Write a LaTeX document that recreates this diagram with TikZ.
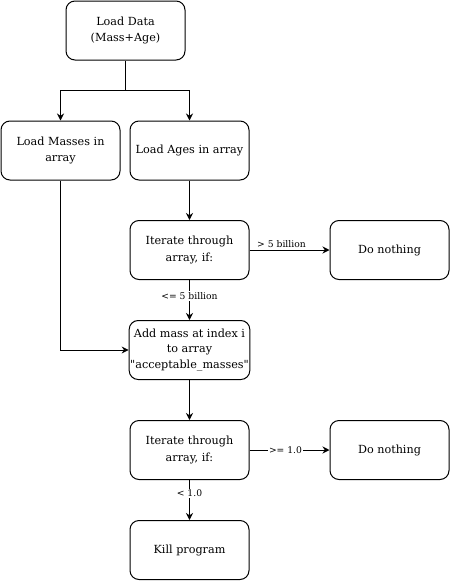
\documentclass[tikz,border=0pt]{standalone}
\usepackage{fontspec}
\setmainfont{DejaVu Serif}
\usetikzlibrary{arrows.meta}
\begin{document}
\begin{tikzpicture}[x=1pt,y=-1pt,
  box/.style={draw,line width=1pt,rounded corners=9pt,minimum width=119pt,minimum height=59pt,align=center,font=\fontsize{11.2}{16.5}\selectfont,inner sep=1pt},
  conn/.style={line width=1pt,-{Stealth[length=7pt,width=7pt]}},
  lbl/.style={fill=white,font=\fontsize{9.2}{10}\selectfont,inner sep=1pt}]
\useasboundingbox (0,0) rectangle (451,581);
\node[box] (data) at (125.5,30.5) {Load Data\\(Mass+Age)};
\node[box] (mass) at (60.5,150.5) {Load Masses in\\array};
\node[box] (ages) at (189.5,150.5) {Load Ages in array};
\node[box] (it1) at (189.5,250) {Iterate through\\array, if:};
\node[box] (dn1) at (389.5,250) {Do nothing};
\node[box,font=\fontsize{11.2}{15.5}\selectfont] (add) at (189.5,350) {Add mass at index i\\to array\\\textquotedbl acceptable\_masses\textquotedbl};
\node[box] (it2) at (189.5,450) {Iterate through\\array, if:};
\node[box] (dn2) at (389.5,450) {Do nothing};
\node[box] (kill) at (189.5,550) {Kill program};
\coordinate (split) at (125.5,90);
\draw[conn] (data.south) -- (split) -| (mass.north);
\draw[conn] (split) -| (ages.north);
\draw[conn] (mass.south) |- (add.west);
\draw[conn] (ages) -- (it1);
\draw[conn] (it1) -- (dn1) node[pos=0.4,above=1pt,font=\fontsize{9.2}{10}\selectfont,inner sep=1pt] {> 5 billion};
\draw[conn] (it1) -- (add) node[lbl,pos=0.4] {<= 5 billion};
\draw[conn] (add) -- (it2);
\draw[conn] (it2) -- (dn2) node[lbl,pos=0.45] {>= 1.0};
\draw[conn] (it2) -- (kill) node[lbl,pos=0.33] {< 1.0};
\end{tikzpicture}
\end{document}
